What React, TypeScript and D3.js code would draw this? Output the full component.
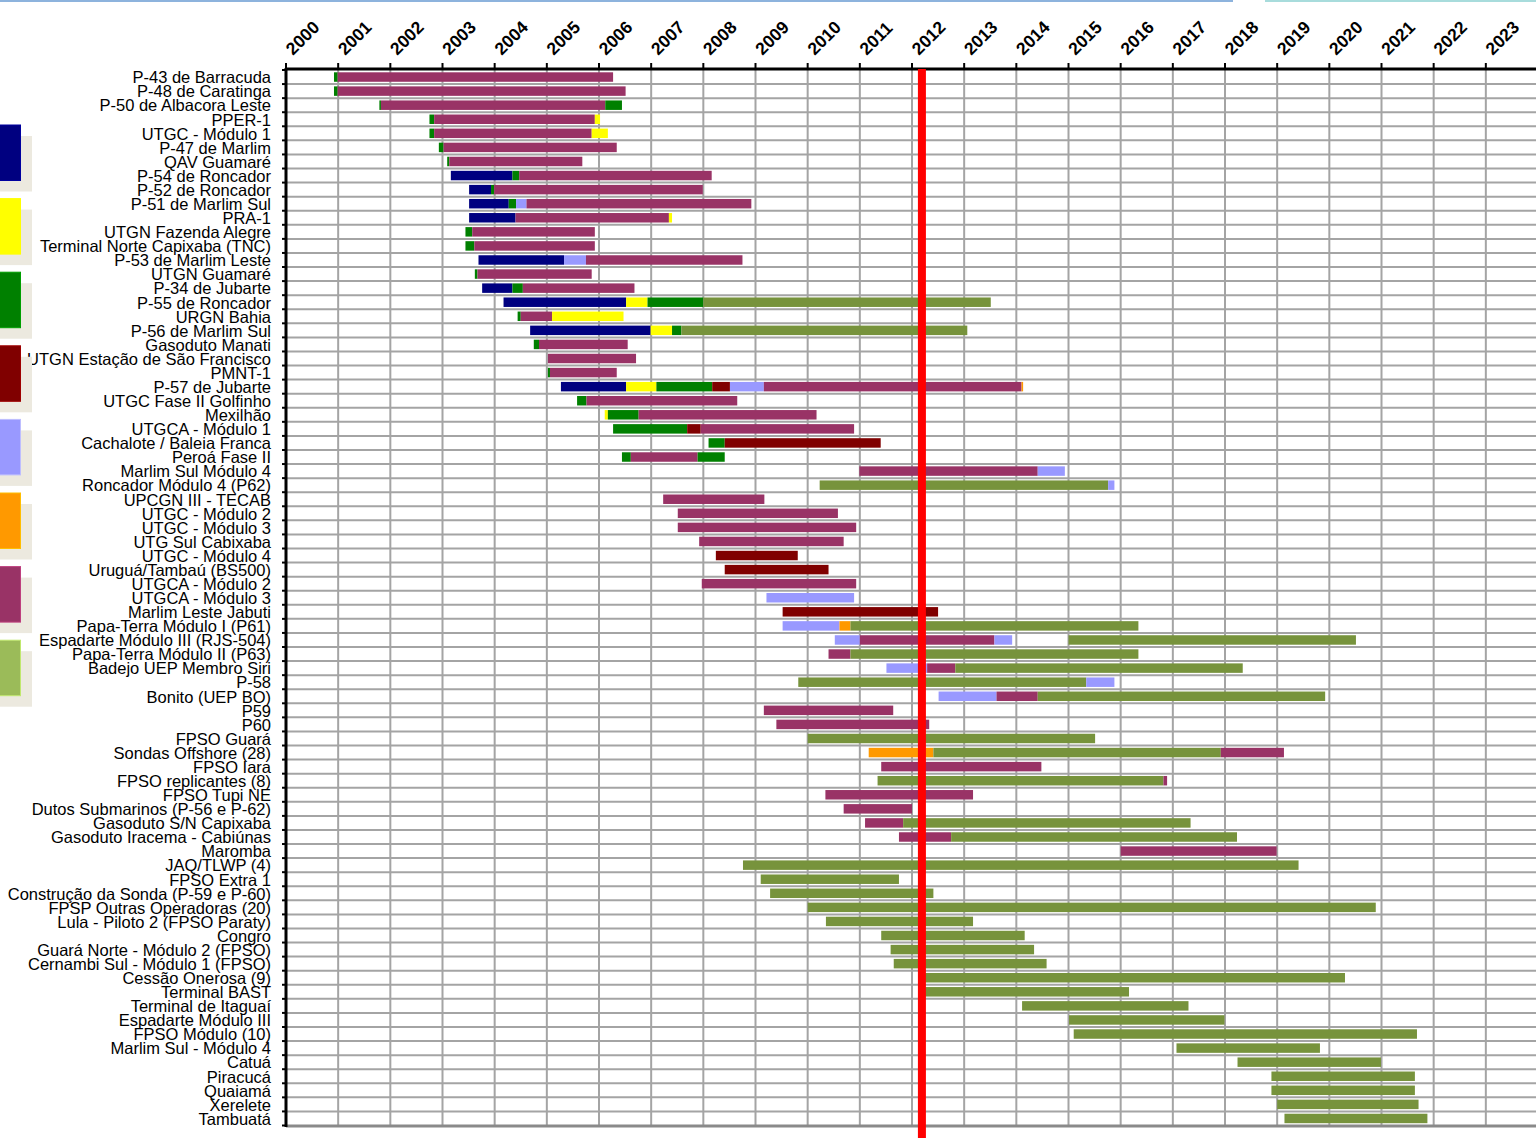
import { useEffect, useRef } from 'react';
import * as d3 from 'd3';

// project names, top to bottom
const projects: string[] = [
  'P-43 de Barracuda', 'P-48 de Caratinga', 'P-50 de Albacora Leste', 'PPER-1', 'UTGC - Módulo 1',
  'P-47 de Marlim', 'QAV Guamaré', 'P-54 de Roncador', 'P-52 de Roncador', 'P-51 de Marlim Sul',
  'PRA-1', 'UTGN Fazenda Alegre', 'Terminal Norte Capixaba (TNC)', 'P-53 de Marlim Leste', 'UTGN Guamaré',
  'P-34 de Jubarte', 'P-55 de Roncador', 'URGN Bahia', 'P-56 de Marlim Sul', 'Gasoduto Manati',
  'UTGN Estação de São Francisco', 'PMNT-1', 'P-57 de Jubarte', 'UTGC Fase II Golfinho', 'Mexilhão',
  'UTGCA - Módulo 1', 'Cachalote / Baleia Franca', 'Peroá Fase II', 'Marlim Sul Módulo 4', 'Roncador Módulo 4 (P62)',
  'UPCGN III - TECAB', 'UTGC - Módulo 2', 'UTGC - Módulo 3', 'UTG Sul Cabixaba', 'UTGC - Módulo 4',
  'Uruguá/Tambaú (BS500)', 'UTGCA - Módulo 2', 'UTGCA - Módulo 3', 'Marlim Leste Jabuti', 'Papa-Terra Módulo I (P61)',
  'Espadarte Módulo III (RJS-504)', 'Papa-Terra Módulo II (P63)', 'Badejo UEP Membro Siri', 'P-58', 'Bonito (UEP BO)',
  'P59', 'P60', 'FPSO Guará', 'Sondas Offshore (28)', 'FPSO Iara',
  'FPSO replicantes (8)', 'FPSO Tupi NE', 'Dutos Submarinos (P-56 e P-62)', 'Gasoduto S/N Capixaba', 'Gasoduto Iracema - Cabiúnas',
  'Maromba', 'JAQ/TLWP (4)', 'FPSO Extra 1', 'Construção da Sonda (P-59 e P-60)', 'FPSP Outras Operadoras (20)',
  'Lula - Piloto 2 (FPSO Paraty)', 'Congro', 'Guará Norte - Módulo 2 (FPSO)', 'Cernambi Sul - Módulo 1 (FPSO)', 'Cessão Onerosa (9)',
  'Terminal BAST', 'Terminal de Itaguaí', 'Espadarte Módulo III', 'FPSO Módulo (10)', 'Marlim Sul - Módulo 4',
  'Catuá', 'Piracucá', 'Quaiamá', 'Xerelete', 'Tambuatá',
];

// phase keys in legend order
const phases: string[] = ['N', 'Y', 'G', 'R', 'L', 'O', 'M', 'V'];

// [phase, start year, end year] per project
const schedule: [string, number, number][][] = [
  [['G', 2000.92, 2000.99], ['M', 2000.99, 2006.27]],
  [['G', 2000.92, 2000.99], ['M', 2000.99, 2006.51]],
  [['G', 2001.79, 2001.82], ['M', 2001.82, 2006.12], ['G', 2006.12, 2006.44]],
  [['G', 2002.75, 2002.84], ['M', 2002.84, 2005.92], ['Y', 2005.92, 2006.02]],
  [['G', 2002.75, 2002.84], ['M', 2002.84, 2005.86], ['Y', 2005.86, 2006.17]],
  [['G', 2002.93, 2003.02], ['M', 2003.02, 2006.34]],
  [['G', 2003.09, 2003.13], ['M', 2003.13, 2005.68]],
  [['N', 2003.16, 2004.34], ['G', 2004.34, 2004.47], ['M', 2004.47, 2008.16]],
  [['N', 2003.51, 2003.93], ['G', 2003.93, 2003.99], ['M', 2003.99, 2007.99]],
  [['N', 2003.51, 2004.27], ['G', 2004.27, 2004.41], ['L', 2004.41, 2004.61], ['M', 2004.61, 2008.92]],
  [['N', 2003.51, 2004.40], ['M', 2004.40, 2007.34], ['Y', 2007.34, 2007.40]],
  [['G', 2003.44, 2003.57], ['M', 2003.57, 2005.92]],
  [['G', 2003.44, 2003.61], ['M', 2003.61, 2005.92]],
  [['N', 2003.69, 2005.33], ['L', 2005.33, 2005.75], ['M', 2005.75, 2008.75]],
  [['G', 2003.62, 2003.67], ['M', 2003.67, 2005.86]],
  [['N', 2003.76, 2004.34], ['G', 2004.34, 2004.54], ['M', 2004.54, 2006.68]],
  [['N', 2004.17, 2006.52], ['Y', 2006.52, 2006.93], ['G', 2006.93, 2008.00], ['V', 2008.00, 2013.51]],
  [['G', 2004.44, 2004.50], ['M', 2004.50, 2005.10], ['Y', 2005.10, 2006.47]],
  [['N', 2004.68, 2006.99], ['Y', 2006.99, 2007.40], ['G', 2007.40, 2007.58], ['V', 2007.58, 2013.06]],
  [['G', 2004.75, 2004.85], ['M', 2004.85, 2006.55]],
  [['M', 2005.02, 2006.71]],
  [['G', 2005.02, 2005.06], ['M', 2005.06, 2006.34]],
  [['N', 2005.27, 2006.52], ['Y', 2006.52, 2007.10], ['G', 2007.10, 2008.17], ['R', 2008.17, 2008.51],
    ['L', 2008.51, 2009.16], ['M', 2009.16, 2014.10], ['O', 2014.10, 2014.13]],
  [['G', 2005.58, 2005.76], ['M', 2005.76, 2008.65]],
  [['Y', 2006.11, 2006.17], ['G', 2006.17, 2006.76], ['M', 2006.76, 2010.17]],
  [['G', 2006.27, 2007.69], ['R', 2007.69, 2007.95], ['M', 2007.95, 2010.89]],
  [['G', 2008.10, 2008.41], ['R', 2008.41, 2011.40]],
  [['G', 2006.44, 2006.61], ['M', 2006.61, 2007.89], ['G', 2007.89, 2008.41]],
  [['M', 2010.99, 2014.41], ['L', 2014.41, 2014.93]],
  [['V', 2010.23, 2015.76], ['L', 2015.76, 2015.88]],
  [['M', 2007.23, 2009.17]],
  [['M', 2007.51, 2010.58]],
  [['M', 2007.51, 2010.93]],
  [['M', 2007.92, 2010.69]],
  [['R', 2008.24, 2009.81]],
  [['R', 2008.41, 2010.40]],
  [['M', 2007.97, 2010.93]],
  [['L', 2009.21, 2010.89]],
  [['R', 2009.52, 2012.50]],
  [['L', 2009.52, 2010.61], ['O', 2010.61, 2010.82], ['V', 2010.82, 2016.34]],
  [['L', 2010.52, 2011.00], ['M', 2011.00, 2013.58], ['L', 2013.58, 2013.92], ['V', 2015.00, 2020.51]],
  [['M', 2010.40, 2010.82], ['V', 2010.82, 2016.34]],
  [['L', 2011.51, 2012.29], ['M', 2012.29, 2012.83], ['V', 2012.83, 2018.34]],
  [['V', 2009.82, 2015.34], ['L', 2015.34, 2015.88]],
  [['L', 2012.51, 2013.62], ['M', 2013.62, 2014.41], ['V', 2014.41, 2019.92]],
  [['M', 2009.16, 2011.64]],
  [['M', 2009.40, 2012.33]],
  [['V', 2010.00, 2015.51]],
  [['O', 2011.17, 2012.41], ['V', 2012.41, 2017.92], ['M', 2017.92, 2019.13]],
  [['M', 2011.41, 2014.48]],
  [['V', 2011.34, 2016.82], ['M', 2016.82, 2016.89]],
  [['M', 2010.34, 2013.17]],
  [['M', 2010.69, 2012.00]],
  [['M', 2011.10, 2011.83], ['V', 2011.83, 2017.34]],
  [['M', 2011.75, 2012.75], ['V', 2012.75, 2018.23]],
  [['M', 2016.00, 2018.99]],
  [['V', 2008.76, 2019.41]],
  [['V', 2009.10, 2011.75]],
  [['V', 2009.28, 2012.41]],
  [['V', 2010.00, 2020.89]],
  [['V', 2010.35, 2013.17]],
  [['V', 2011.41, 2014.16]],
  [['V', 2011.59, 2014.34]],
  [['V', 2011.65, 2014.58]],
  [['V', 2012.25, 2020.30]],
  [['V', 2012.25, 2016.16]],
  [['V', 2014.11, 2017.30]],
  [['V', 2015.01, 2017.99]],
  [['V', 2015.10, 2021.68]],
  [['V', 2017.07, 2019.82]],
  [['V', 2018.24, 2020.99]],
  [['V', 2018.89, 2021.64]],
  [['V', 2018.89, 2021.64]],
  [['V', 2019.00, 2021.71]],
  [['V', 2019.14, 2021.88]],
];

const years: number[] = d3.range(2000, 2024);
const today = 2012.19;

const barColor: Record<string, string> = {
  N: '#000080', Y: '#ffff00', G: '#008000', R: '#800000',
  L: '#9999ff', O: '#ff9900', M: '#993366', V: '#77933c',
};
const legendColor: Record<string, string> = { ...barColor, V: '#9bbb59' };

const W = 1536;
const H = 1138;

export default function App() {
  const ref = useRef<SVGSVGElement>(null);

  useEffect(() => {
    if (!ref.current) return;
    const svg = d3.select(ref.current);
    svg.selectAll('*').remove();

    const x = d3.scaleLinear().domain([2000, 2024]).range([286, 1538]);
    const y = d3.scaleBand<number>().domain(d3.range(projects.length)).range([70, 1125.5]).padding(0);
    const bw = y.bandwidth();

    // faint strip at the top of the page
    svg.append('rect').attr('x', 0).attr('y', 0).attr('width', 1233).attr('height', 2).attr('fill', '#8db3dd');
    svg.append('rect').attr('x', 1265).attr('y', 0).attr('width', W - 1265).attr('height', 2).attr('fill', '#a8dcdc');

    // grid
    const grid = svg.append('g').attr('stroke', '#a4a4a4').attr('stroke-width', 2);
    grid.selectAll('line.v')
      .data(years.slice(1))
      .join('line')
      .attr('x1', d => x(d)).attr('x2', d => x(d))
      .attr('y1', 69).attr('y2', 1126);
    grid.selectAll('line.h')
      .data(d3.range(1, projects.length))
      .join('line')
      .attr('class', 'h')
      .attr('x1', 286).attr('x2', W)
      .attr('y1', d => y(d)!).attr('y2', d => y(d)!);

    // bars
    const rows = svg.append('g')
      .selectAll('g')
      .data(schedule)
      .join('g')
      .attr('transform', (_d, i) => `translate(0,${y(i)! + 2.3})`);
    rows.selectAll('rect')
      .data(d => d)
      .join('rect')
      .attr('x', d => x(d[1]))
      .attr('width', d => Math.max(1.5, x(d[2]) - x(d[1])))
      .attr('height', bw - 4.6)
      .attr('fill', d => barColor[d[0]]);

    // bottom line
    svg.append('line')
      .attr('x1', 286).attr('x2', W).attr('y1', 1126).attr('y2', 1126)
      .attr('stroke', '#8a8a8a').attr('stroke-width', 3);

    // top axis
    svg.append('line')
      .attr('x1', 286).attr('x2', W).attr('y1', 69).attr('y2', 69)
      .attr('stroke', '#000').attr('stroke-width', 3);
    svg.append('g').selectAll('line')
      .data(years)
      .join('line')
      .attr('x1', d => x(d)).attr('x2', d => x(d))
      .attr('y1', 63).attr('y2', 69)
      .attr('stroke', '#000').attr('stroke-width', 2);
    svg.append('g').selectAll('text')
      .data(years)
      .join('text')
      .attr('transform', d => `translate(${x(d) + 7},56) rotate(-45)`)
      .attr('font-family', '"Liberation Sans", Arial, sans-serif')
      .attr('font-weight', 'bold')
      .attr('font-size', 17.5)
      .text(d => d);

    // left axis
    svg.append('line')
      .attr('x1', 286).attr('x2', 286).attr('y1', 68).attr('y2', 1127)
      .attr('stroke', '#000').attr('stroke-width', 3);
    svg.append('g').selectAll('line')
      .data(d3.range(projects.length + 1))
      .join('line')
      .attr('x1', 282).attr('x2', 286)
      .attr('y1', d => 70 + d * bw).attr('y2', d => 70 + d * bw)
      .attr('stroke', '#000').attr('stroke-width', 2);

    // today marker
    svg.append('rect')
      .attr('x', x(today) - 4).attr('y', 69)
      .attr('width', 8).attr('height', H - 69)
      .attr('fill', '#ff0000');

    // row labels
    svg.append('g').selectAll('text')
      .data(projects)
      .join('text')
      .attr('x', 271)
      .attr('y', (_d, i) => y(i)! + bw / 2 + 6.3)
      .attr('text-anchor', 'end')
      .attr('font-family', '"Liberation Sans", Arial, sans-serif')
      .attr('font-size', 16.5)
      .text(d => d);

    // legend swatches
    const lg = svg.append('g').selectAll('g')
      .data(phases)
      .join('g')
      .attr('transform', (_d, i) => `translate(0,${125 + i * 73.6})`);
    lg.append('rect')
      .attr('x', -10).attr('y', 11).attr('width', 42).attr('height', 55.5)
      .attr('fill', '#ece9df');
    lg.append('rect')
      .attr('x', -10).attr('y', 0).attr('width', 30.5).attr('height', 55.5)
      .attr('fill', d => legendColor[d])
      .attr('stroke', d => d3.color(legendColor[d])!.brighter(0.6).formatHex())
      .attr('stroke-width', 1);
  }, []);

  return (
    <svg
      ref={ref}
      width={W}
      height={H}
      style={{ position: 'absolute', left: 0, top: 0, background: '#fff' }}
    />
  );
}
